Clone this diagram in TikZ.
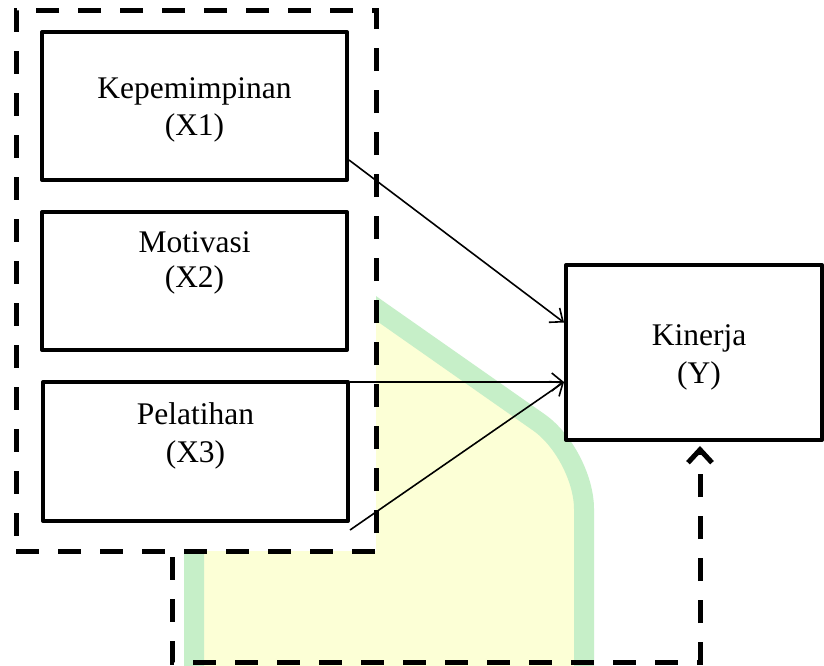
\documentclass[tikz,border=0pt]{standalone}
\usepackage{fontspec}
\setmainfont{Liberation Serif}
\usetikzlibrary{arrows.meta}
\definecolor{wmyellow}{RGB}{252,255,214}
\definecolor{wmgreen}{RGB}{198,239,200}
\begin{document}
\begin{tikzpicture}[x=1pt,y=-1pt,
  box/.style={draw, line width=4pt, fill=white, rectangle, inner sep=0pt, line join=round},
  lbl/.style={anchor=base, inner sep=0pt, font=\fontsize{31.5}{37}\selectfont},
  grpbox/.style={draw, line width=5pt, dash pattern=on 23pt off 19pt, fill=white, rectangle, inner sep=0pt},
  link/.style={line width=1.6pt, -{Straight Barb[length=11pt,width=18pt]}},
  dlink/.style={line width=5pt, dash pattern=on 23pt off 19pt, -{Straight Barb[length=13pt,width=24pt]}}]
\useasboundingbox (0,0) rectangle (824,665);
\fill[white] (0,0) rectangle (824,665);
% watermark
\begin{scope}
\clip (0,0) rectangle (824,665);
\filldraw[fill=wmyellow, draw=wmgreen, line width=20pt, rounded corners=55pt]
  (194,720) -- (194,300) -- (250,220) -- (584,454) -- (584,720);
\end{scope}
% group box
\node[grpbox, minimum width=360pt, minimum height=541pt] (grp) at (196,280.5) {};
% boxes
\node[box, minimum width=305pt, minimum height=148pt] (b1) at (194.5,106) {};
\node[box, minimum width=305pt, minimum height=138pt] (b2) at (194.5,281) {};
\node[box, minimum width=305pt, minimum height=139pt] (b3) at (195.5,451.5) {};
\node[box, minimum width=256pt, minimum height=175pt] (k) at (694,352.5) {};
% labels
\node[lbl] (t1a) at (194.5,98) {Kepemimpinan};
\node[lbl] (t1b) at (194.5,135) {(X1)};
\node[lbl] (t2a) at (194.5,252) {Motivasi};
\node[lbl] (t2b) at (194.5,287) {(X2)};
\node[lbl] (t3a) at (195.5,424) {Pelatihan};
\node[lbl] (t3b) at (195.5,462) {(X3)};
\node[lbl] (tka) at (699,345) {Kinerja};
\node[lbl] (tkb) at (699,383) {(Y)};
% connectors
\draw[link] ([yshift=22pt]b1.south east) -- ([yshift=30pt]k.west);
\draw[link] ([yshift=-2pt]b3.north east) -- ([yshift=-29.5pt]k.west);
\draw[link] ([yshift=-7pt]b3.south east) -- ([yshift=-29.5pt]k.west);
% dashed feedback
\coordinate (d0) at (172,557);
\coordinate (d1) at (172,662);
\coordinate (d2) at (700,662);
\draw[dlink] (d0) -- (d1) -- (d2) -- ([xshift=6pt,yshift=-4pt]k.south);
\end{tikzpicture}
\end{document}
